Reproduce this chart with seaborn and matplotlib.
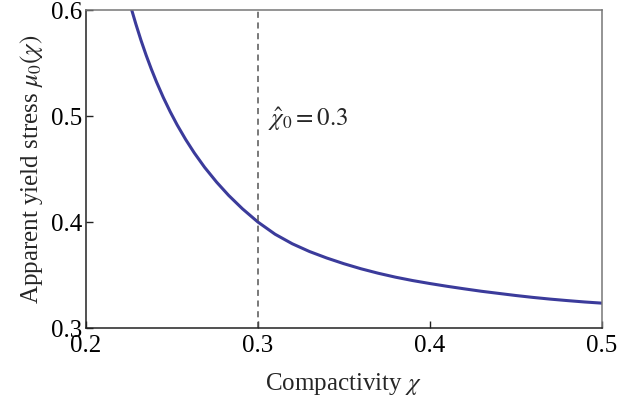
"""Apparent yield stress vs compactivity."""
import matplotlib

matplotlib.use("Agg")
import matplotlib.pyplot as plt
import pandas as pd
import seaborn as sns

# values
chi = [0.2266, 0.229, 0.232, 0.235, 0.238, 0.241, 0.245, 0.249, 0.253,
       0.258, 0.263, 0.269, 0.276, 0.283, 0.291, 0.300, 0.31, 0.32, 0.33,
       0.34, 0.35, 0.36, 0.37, 0.38, 0.39, 0.40, 0.41, 0.42, 0.43, 0.44,
       0.45, 0.46, 0.47, 0.48, 0.49, 0.50]
mu0 = [0.6000, 0.5868, 0.5714, 0.5573, 0.5443, 0.5322, 0.5174, 0.5040, 0.4917,
       0.4778, 0.4652, 0.4516, 0.4376, 0.4251, 0.4125, 0.4000, 0.3885, 0.3795,
       0.3722, 0.3661, 0.3607, 0.3559, 0.3517, 0.3480, 0.3448, 0.3420, 0.3394,
       0.3370, 0.3347, 0.3327, 0.3307, 0.3289, 0.3273, 0.3259, 0.3246, 0.3235]
chi_hat = 0.3
x_ticks = [0.2, 0.3, 0.4, 0.5]
y_ticks = [0.3, 0.4, 0.5, 0.6]

sns.set_style("ticks")
plt.rcParams["font.family"] = ["Liberation Serif", "DejaVu Serif"]
plt.rcParams["mathtext.fontset"] = "stix"

df = pd.DataFrame({"chi": chi, "mu0": mu0})

fig = plt.figure(figsize=(6.37, 4.05), dpi=100)
ax = fig.add_axes([0.135, 0.19, 0.8096, 0.7853])

sns.lineplot(data=df, x="chi", y="mu0", ax=ax, color="#3b3b9b", linewidth=2.2)
ax.axvline(chi_hat, color="#555555", linestyle=(0, (4, 3)), linewidth=1.1)
ax.text(0.3058, 0.497, r"$\hat{\chi}_0 = 0.3$", fontsize=18, va="center")

ax.set_xlim(0.2, 0.5)
ax.set_ylim(0.3, 0.6)
ax.set_xticks(x_ticks)
ax.set_yticks(y_ticks)
ax.set_xticklabels([str(t) for t in x_ticks])
ax.set_yticklabels([str(t) for t in y_ticks])
ax.tick_params(direction="in", length=5, width=1, colors="#222222",
               labelsize=18, labelcolor="black")
ax.tick_params(axis="x", pad=5)
ax.tick_params(axis="y", pad=3)

for side in ["left", "bottom"]:
    ax.spines[side].set_color("#222222")
for side in ["top", "right"]:
    ax.spines[side].set_color("#777777")
for sp in ax.spines.values():
    sp.set_linewidth(1.1)

ax.set_xlabel(r"Compactivity $\chi$", fontsize=18, labelpad=10)
ax.set_ylabel(r"Apparent yield stress $\mu_0(\chi)$", fontsize=18, labelpad=4)

fig.savefig("out.png", dpi=100)
